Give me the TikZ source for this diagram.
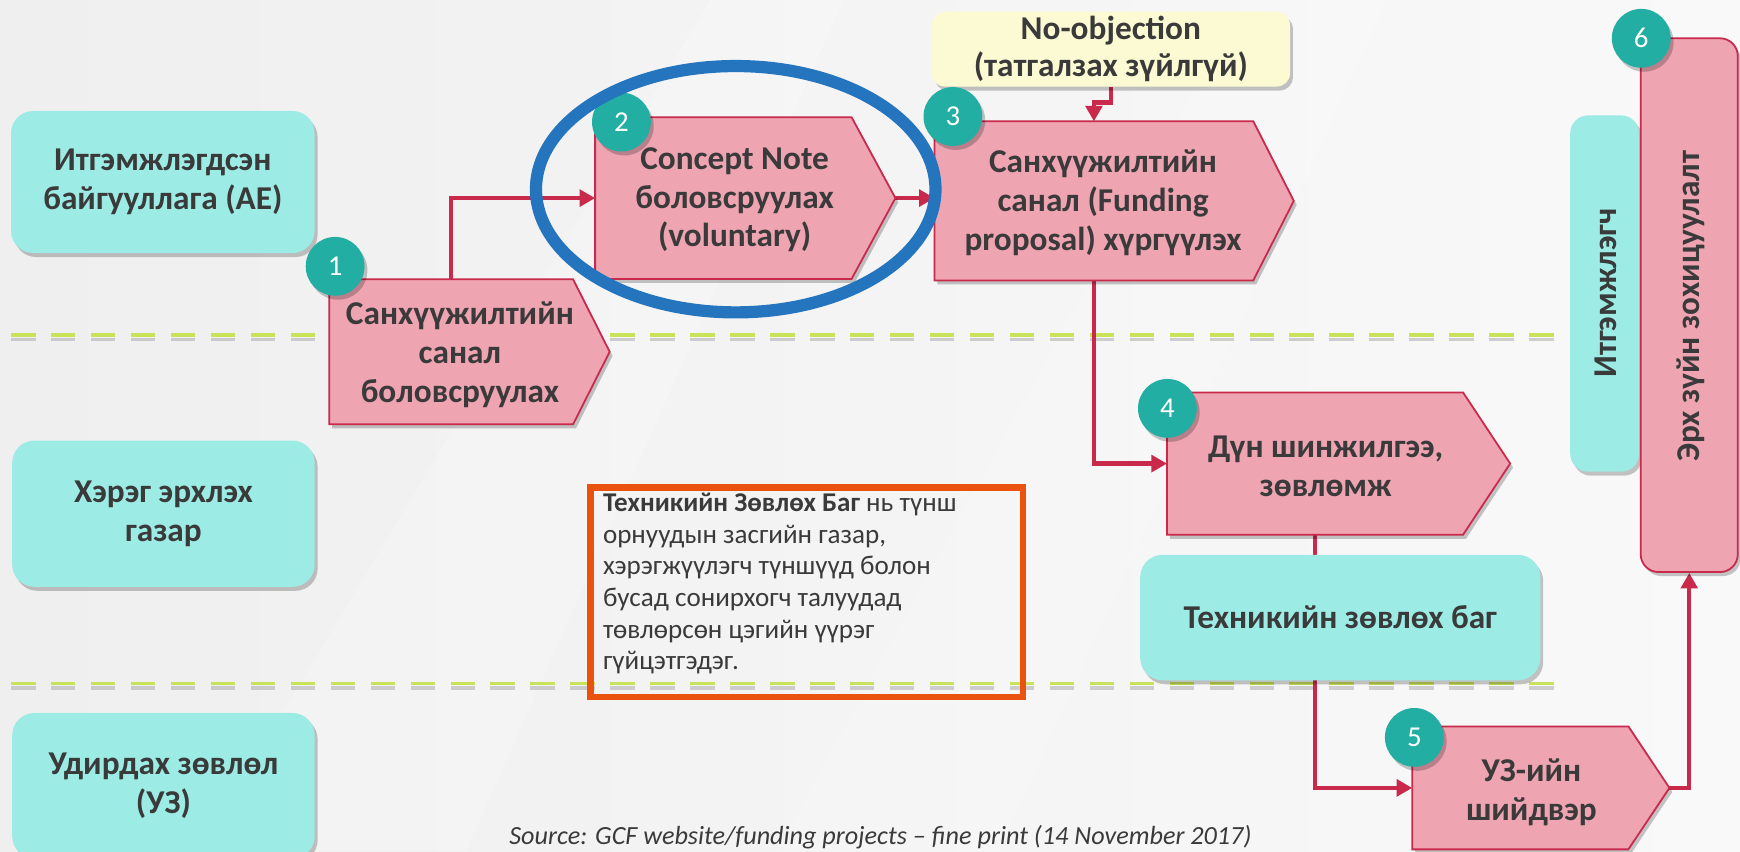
\documentclass[tikz,border=0pt]{standalone}
\usepackage{fontspec}
\setmainfont{Carlito}
\usetikzlibrary{arrows.meta,shadows,calc}
\definecolor{bgl}{HTML}{EFEFEF}
\definecolor{bgr}{HTML}{F9F9F9}
\definecolor{cyanf}{HTML}{9DEBE5}
\definecolor{pinkf}{HTML}{EEA4B1}
\definecolor{pinkd}{HTML}{C9294B}
\definecolor{tealc}{HTML}{22AEA2}
\definecolor{limec}{HTML}{C8E35A}
\definecolor{txtc}{HTML}{3A3A3A}
\definecolor{yelf}{HTML}{FBFAD3}
\definecolor{bluee}{HTML}{2474BE}
\definecolor{orng}{HTML}{E9520F}
\pgfdeclarelayer{bglayer}
\pgfdeclarelayer{connlayer}
\pgfdeclarelayer{shapelayer}
\pgfdeclarelayer{toplayer}
\pgfsetlayers{bglayer,connlayer,shapelayer,main,toplayer}
\tikzset{
  softshadow/.style={drop shadow={shadow xshift=1.3pt,shadow yshift=-1.8pt,opacity=0.22,fill=black}},
  cyanbox/.style={fill=cyanf,rounded corners=10pt,draw=none,align=center,inner sep=0pt,softshadow},
  pinkrect/.style={inner sep=0pt,draw=none},
  ptext/.style={align=center,inner sep=0pt},
  numc/.style={circle,fill=tealc,text=white,minimum size=26.5pt,inner sep=0pt,
    font=\fontsize{13}{13}\selectfont\mdseries,softshadow},
  conn/.style={draw=pinkd,line width=2pt,-{Triangle[length=7pt,width=7.5pt]}},
  pentf/.style={fill=pinkf,draw=pinkd,line width=0.8pt,softshadow},
  divline/.style={line width=1.7pt,dash pattern=on 11pt off 7pt},
}
\newcommand\pentshape[2]{%
  \begin{pgfonlayer}{shapelayer}
  \draw[pentf] (#1.north west) -- (#1.north east) -- ($(#1.east)+(#2,0)$) coordinate (#1tip)
     -- (#1.south east) -- (#1.south west) -- cycle;
  \end{pgfonlayer}}
\begin{document}
\begin{tikzpicture}[x=0.5pt,y=-0.5pt,font=\fontsize{15}{17.5}\selectfont\bfseries,text=txtc]
\useasboundingbox (0,0) rectangle (1568,767);
\begin{pgfonlayer}{bglayer}
  \shade[left color=bgl,right color=bgr] (0,0) rectangle (1568,767);
  \fill[white,opacity=0.2] (180,767) -- (420,767) -- (760,0) -- (640,0) -- cycle;
  \fill[white,opacity=0.15] (700,767) -- (900,767) -- (1250,0) -- (1120,0) -- cycle;
  \draw[divline,gray!70,opacity=0.5] (10,306) -- (1411,306);
  \draw[divline,limec] (10,302) -- (1411,302);
  \draw[divline,gray!70,opacity=0.5] (10,620) -- (1411,620);
  \draw[divline,limec] (10,616) -- (1411,616);
\end{pgfonlayer}

% lane boxes
\node[cyanbox,minimum width=136.8pt,minimum height=64pt] (ae) at (146.75,164) {Итгэмжлэгдсэн\\байгууллага (АЕ)};
\node[cyanbox,minimum width=136.3pt,minimum height=65.9pt] (he) at (147.3,462.9) {Хэрэг эрхлэх\\газар};
\node[cyanbox,minimum width=136.3pt,minimum height=65.5pt] (uz) at (147.3,708) {Удирдах зөвлөл\\(УЗ)};

% right side boxes
\node[cyanbox,rounded corners=8pt,minimum width=31pt,minimum height=160.5pt] (itg) at (1446,264.5) {};
\node[rotate=90,inner sep=0pt] (itgt) at (1447,264) {Итгэмжлэгч};
\node[fill=pinkf,draw=pinkd,line width=0.8pt,rounded corners=8pt,minimum width=43.75pt,minimum height=240.5pt,softshadow] (erx) at (1522.25,275) {};
\node[rotate=90,inner sep=0pt] (erxt) at (1524,276) {Эрх зүйн зохицуулалт};

% no objection
\node[fill=yelf,rounded corners=6pt,minimum width=161.5pt,minimum height=33.75pt,align=center,inner sep=0pt,softshadow,
  font=\fontsize{15}{16.5}\selectfont\bfseries] (noobj) at (1001,44.25) {No-objection\\(татгалзах зүйлгүй)};

% technical team
\node[cyanbox,minimum width=180.25pt,minimum height=56.5pt] (tzb) at (1207.75,556.5) {Техникийн зөвлөх баг};

% process boxes
\node[pinkrect,minimum width=109.5pt,minimum height=65pt] (p1) at (406.5,317) {};
\node[ptext] (p1t) at (414.5,319.5) {Санхүүжилтийн\\санал\\боловсруулах};
\node[pinkrect,minimum width=115.15pt,minimum height=72.5pt] (p2) at (651.85,178.5) {};
\node[ptext] (p2t) at (662,180) {Concept Note\\боловсруулах\\(voluntary)};
\node[pinkrect,minimum width=143.2pt,minimum height=71.3pt] (p3) at (985.8,181) {};
\node[ptext] (p3t) at (994,182.5) {Санхүүжилтийн\\санал (Funding\\proposal) хүргүүлэх};
\node[pinkrect,minimum width=133pt,minimum height=63.75pt] (p4) at (1185,417.75) {};
\node[ptext] (p4t) at (1194.6,420.5) {Дүн шинжилгээ,\\зөвлөмж};
\node[pinkrect,minimum width=97pt,minimum height=55pt] (p5) at (1370,710) {};
\node[ptext] (p5t) at (1380,714) {УЗ-ийн\\шийдвэр};
\pentshape{p1}{33}
\pentshape{p2}{39.5}
\pentshape{p3}{36.5}
\pentshape{p4}{42.5}
\pentshape{p5}{37}

% number badges
\node[numc] (n1) at (302,240) {1};
\node[numc] (n2) at (560,110) {2};
\node[numc] (n3) at (858.7,105) {3};
\node[numc] (n4) at (1052,368) {4};
\node[numc] (n5) at (1274.5,664.5) {5};
\node[numc] (n6) at (1479,34.5) {6};

% note box
\node[draw=orng,line width=3pt,minimum width=195pt,minimum height=94.25pt,inner sep=0pt,anchor=north west] (tab) at (529,436.5) {};
\node[anchor=north west,align=left,inner sep=0pt,font=\fontsize{12.2}{14.25}\selectfont\mdseries,text=txtc] (tabt) at (543,444)
  {\textbf{Техникийн Зөвлөх Баг} нь түнш\\орнуудын засгийн газар,\\хэрэгжүүлэгч түншүүд болон\\бусад сонирхогч талуудад\\төвлөрсөн цэгийн үүрэг\\гүйцэтгэдэг.};

% source
\node[anchor=base west,inner sep=0pt,font=\fontsize{11.8}{13}\selectfont\itshape\mdseries,text=txtc] (src) at (458.6,761)
  {Source: GCF website/funding projects – fine print (14 November 2017)};

% connectors
\begin{pgfonlayer}{connlayer}
  \draw[conn] (p1.north) |- (p2.west);
  \draw[conn] (p2tip) -- (p3.west |- p2tip);
  \draw[conn] (noobj.south) -- ++(0,14) -| (p3.north);
  \draw[conn] (p3.south) |- (p4.west);
  \draw[conn] (p4.south) |- (p5.west);
  \draw[conn] (p5tip) -| (erx.south);
\end{pgfonlayer}

% highlight ellipse
\begin{pgfonlayer}{toplayer}
  \coordinate (ec) at (663,170.5);
  \draw[bluee,line width=5.5pt] (ec) ellipse [x radius=90pt,y radius=55.5pt];
\end{pgfonlayer}
\end{tikzpicture}
\end{document}
